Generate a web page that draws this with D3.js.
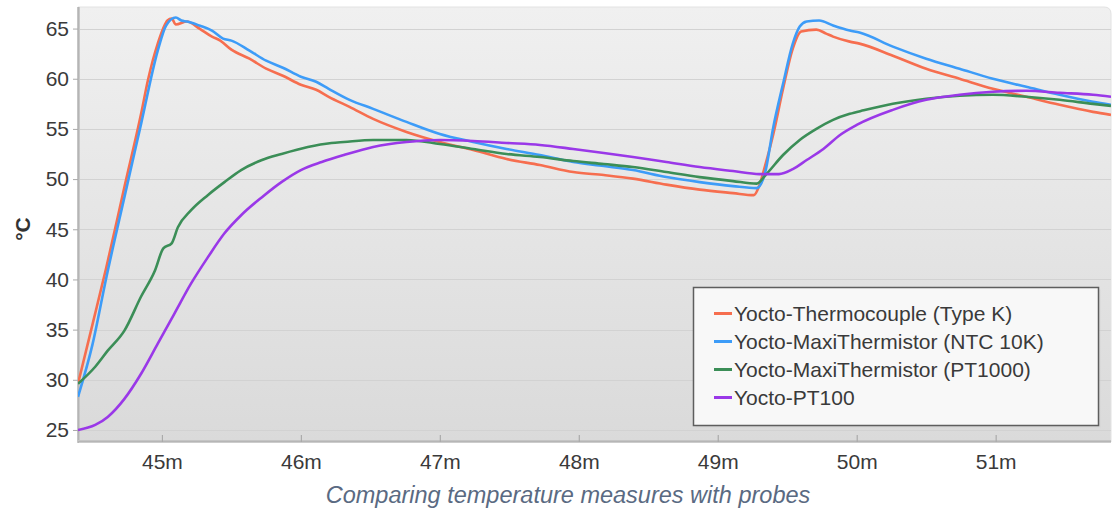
<!DOCTYPE html>
<html>
<head>
<meta charset="utf-8">
<script src="https://cdn.jsdelivr.net/npm/d3@7"></script>
<style>
  html, body { margin: 0; padding: 0; background: #ffffff; }
  svg { display: block; font-family: "Liberation Sans", Arial, sans-serif; }
</style>
</head>
<body>
<svg id="chart" width="1114" height="512"></svg>
<script>
// ---- data (time in minutes, temperature in °C) ----
const xTicks = [45, 46, 47, 48, 49, 50, 51];
const yTicks = [25, 30, 35, 40, 45, 50, 55, 60, 65];
const seriesNames = [
  "Yocto-Thermocouple (Type K)",
  "Yocto-MaxiThermistor (NTC 10K)",
  "Yocto-MaxiThermistor (PT1000)",
  "Yocto-PT100"
];
const seriesColors = ["#f66e4f", "#3d9cf8", "#3b8e57", "#9a38e8"];

const thermocouple = [
  [44.396, 29.6], [44.50, 35.5], [44.60, 41.2], [44.73, 49.2], [44.85, 56.5],
  [44.90, 59.9], [44.97, 63.5], [45.04, 65.8], [45.07, 66.0], [45.10, 65.4],
  [45.18, 65.7], [45.27, 65.0], [45.36, 64.2], [45.42, 63.8], [45.50, 62.9],
  [45.63, 62.0], [45.75, 61.0], [45.87, 60.3], [46.00, 59.4], [46.11, 58.9],
  [46.20, 58.2], [46.35, 57.2], [46.52, 56.0], [46.76, 54.7], [47.00, 53.7],
  [47.24, 52.9], [47.48, 52.0], [47.72, 51.4], [47.96, 50.7], [48.18, 50.4],
  [48.39, 50.05], [48.63, 49.45], [48.87, 48.95], [49.11, 48.6], [49.26, 48.4],
  [49.30, 49.4], [49.34, 51.3], [49.40, 54.5], [49.47, 59.0], [49.54, 63.0],
  [49.60, 64.7], [49.71, 64.9], [49.78, 64.5], [49.83, 64.2], [49.95, 63.7],
  [50.02, 63.5], [50.26, 62.3], [50.50, 61.0], [50.74, 60.0], [50.98, 59.0],
  [51.22, 58.2], [51.46, 57.4], [51.70, 56.7], [51.83, 56.4]
];
const ntc10k = [
  [44.396, 28.3], [44.50, 33.5], [44.60, 40.2], [44.73, 48.2], [44.85, 55.5],
  [44.97, 62.8], [45.03, 65.3], [45.10, 66.1], [45.14, 65.8], [45.18, 65.7],
  [45.27, 65.3], [45.36, 64.8], [45.44, 64.0], [45.50, 63.8], [45.63, 62.8],
  [45.75, 61.8], [45.87, 61.1], [46.00, 60.2], [46.11, 59.7], [46.20, 59.0],
  [46.35, 57.9], [46.52, 57.0], [46.76, 55.7], [47.00, 54.5], [47.24, 53.7],
  [47.48, 53.0], [47.72, 52.4], [47.96, 51.7], [48.18, 51.3], [48.39, 50.9],
  [48.63, 50.2], [48.87, 49.7], [49.11, 49.3], [49.28, 49.1], [49.34, 50.6],
  [49.40, 55.2], [49.47, 59.5], [49.54, 63.5], [49.59, 65.2], [49.64, 65.7],
  [49.73, 65.8], [49.83, 65.3], [49.95, 64.8], [50.02, 64.6], [50.26, 63.2],
  [50.50, 62.0], [50.74, 61.0], [50.98, 60.0], [51.22, 59.2], [51.46, 58.4],
  [51.70, 57.7], [51.83, 57.4]
];
const pt1000 = [
  [44.396, 29.6], [44.52, 31.3], [44.61, 32.9], [44.73, 34.9], [44.85, 38.3],
  [44.95, 40.9], [45.01, 43.1], [45.07, 43.6], [45.115, 45.2], [45.21, 46.9],
  [45.33, 48.4], [45.45, 49.7], [45.57, 50.9], [45.72, 51.9], [45.86, 52.5],
  [46.05, 53.2], [46.22, 53.6], [46.31, 53.7], [46.52, 53.9], [46.76, 53.9],
  [47.00, 53.5], [47.24, 53.0], [47.48, 52.5], [47.72, 52.2], [47.96, 51.8],
  [48.18, 51.5], [48.39, 51.2], [48.63, 50.7], [48.87, 50.2], [49.11, 49.8],
  [49.28, 49.55], [49.35, 50.5], [49.47, 52.4], [49.59, 53.9], [49.71, 55.0],
  [49.83, 55.9], [49.95, 56.5], [50.05, 56.85], [50.26, 57.5], [50.50, 58.0],
  [50.74, 58.3], [50.98, 58.4], [51.22, 58.2], [51.46, 57.9], [51.70, 57.5],
  [51.83, 57.3]
];
const pt100 = [
  [44.396, 25.0], [44.52, 25.5], [44.61, 26.3], [44.73, 28.1], [44.85, 30.6],
  [44.97, 33.6], [45.09, 36.6], [45.21, 39.6], [45.33, 42.2], [45.45, 44.6],
  [45.57, 46.4], [45.72, 48.2], [45.86, 49.7], [46.00, 50.9], [46.15, 51.7],
  [46.31, 52.4], [46.52, 53.2], [46.76, 53.7], [47.00, 53.9], [47.24, 53.8],
  [47.48, 53.6], [47.72, 53.4], [47.96, 53.0], [48.18, 52.6], [48.39, 52.2],
  [48.63, 51.7], [48.87, 51.2], [49.11, 50.8], [49.30, 50.5], [49.44, 50.5],
  [49.54, 51.0], [49.64, 51.9], [49.76, 53.0], [49.88, 54.4], [50.00, 55.4],
  [50.26, 56.9], [50.50, 57.9], [50.74, 58.4], [50.98, 58.7], [51.22, 58.8],
  [51.46, 58.6], [51.70, 58.4], [51.83, 58.2]
];
const allSeries = [thermocouple, ntc10k, pt1000, pt100];
const xDomain = [44.396, 51.83];
const yDomain = [23.8, 67.15];
const caption = "Comparing temperature measures with probes";
const yLabel = "°C";

// ---- layout ----
const svg = d3.select("#chart");
const W = 1114, H = 512;
const m = { left: 78, top: 7, right: 3, bottom: 70 };
const pw = W - m.left - m.right, ph = H - m.top - m.bottom;

const x = d3.scaleLinear().domain(xDomain).range([m.left, m.left + pw]);
const y = d3.scaleLinear().domain(yDomain).range([m.top + ph, m.top]);

const defs = svg.append("defs");
const grad = defs.append("linearGradient").attr("id", "bg").attr("x1", 0).attr("y1", 0).attr("x2", 0).attr("y2", 1);
grad.append("stop").attr("offset", "0%").attr("stop-color", "#f0f0f0");
grad.append("stop").attr("offset", "100%").attr("stop-color", "#dadada");
const clip = defs.append("clipPath").attr("id", "clip");
clip.append("rect").attr("x", m.left).attr("y", m.top).attr("width", pw).attr("height", ph);

// plot background with rounded top-right
const r = 7;
const x0 = m.left, y0 = m.top, x1 = m.left + pw, y1 = m.top + ph;
svg.append("path")
  .attr("d", `M${x0},${y0} H${x1 - r} Q${x1},${y0} ${x1},${y0 + r} V${y1} H${x0} Z`)
  .attr("fill", "url(#bg)")
  .attr("stroke", "#e2e2e2")
  .attr("stroke-width", 1);

// grid
svg.append("g").selectAll("line").data(yTicks).join("line")
  .attr("x1", x0).attr("x2", x1)
  .attr("y1", d => Math.round(y(d)) + 0.5).attr("y2", d => Math.round(y(d)) + 0.5)
  .attr("stroke", "#d2d2d2").attr("stroke-width", 1.2);

// axis lines (left & bottom) with soft shadow
svg.append("line").attr("x1", x0 + 1).attr("x2", x0 + 1).attr("y1", y0).attr("y2", y1)
  .attr("stroke", "#c8c8c8").attr("stroke-width", 2);
svg.append("line").attr("x1", x0).attr("x2", x0).attr("y1", y0).attr("y2", y1 + 1)
  .attr("stroke", "#a8a8a8").attr("stroke-width", 1.2);
svg.append("line").attr("x1", x0).attr("x2", x1).attr("y1", y1 - 1).attr("y2", y1 - 1)
  .attr("stroke", "#c4c4c4").attr("stroke-width", 2);
svg.append("line").attr("x1", x0).attr("x2", x1).attr("y1", y1).attr("y2", y1)
  .attr("stroke", "#a8a8a8").attr("stroke-width", 1.2);

// y axis
const yAxis = d3.axisLeft(y).tickValues(yTicks).tickSize(5).tickPadding(4);
const gy = svg.append("g").attr("transform", `translate(${x0},0)`).call(yAxis);
gy.select(".domain").remove();
gy.selectAll(".tick line").attr("stroke", "#aaa");
gy.selectAll(".tick text").attr("fill", "#3a3a3a").style("font-size", "21px")
  .attr("font-family", "'Liberation Sans', Arial, sans-serif");

// x axis (ticks pointing up into plot)
const xAxis = d3.axisBottom(x).tickValues(xTicks).tickFormat(d => d + "m").tickSize(0).tickPadding(12);
const gx = svg.append("g").attr("transform", `translate(0,${y1})`).call(xAxis);
gx.select(".domain").remove();
gx.selectAll(".tick").append("line").attr("y1", -7).attr("y2", 0).attr("stroke", "#aaa").attr("stroke-width", 1.2);
gx.selectAll(".tick text").attr("fill", "#3a3a3a").style("font-size", "21px")
  .attr("font-family", "'Liberation Sans', Arial, sans-serif");

// lines
const line = d3.line().x(d => x(d[0])).y(d => y(d[1])).curve(d3.curveMonotoneX);
svg.append("g").attr("clip-path", "url(#clip)").selectAll("path").data(allSeries).join("path")
  .attr("d", line)
  .attr("fill", "none")
  .attr("stroke", (d, i) => seriesColors[i])
  .attr("stroke-width", 2.6)
  .attr("stroke-linejoin", "round");

// legend
const lg = svg.append("g");
lg.append("rect").attr("x", 694).attr("y", 288).attr("width", 405).attr("height", 138)
  .attr("fill", "#cfcfcf").attr("opacity", 0.5).attr("transform", "translate(1.5,1.5)");
lg.append("rect").attr("x", 693.5).attr("y", 287.5).attr("width", 405).attr("height", 138)
  .attr("fill", "#f8f8f8").attr("stroke", "#5e5e5e").attr("stroke-width", 1.5);
const items = lg.selectAll("g.item").data(seriesNames).join("g").attr("class", "item")
  .attr("transform", (d, i) => `translate(714,${313.5 + i * 28})`);
items.append("line").attr("x1", 0).attr("x2", 18).attr("y1", 0).attr("y2", 0)
  .attr("stroke", (d, i) => seriesColors[i]).attr("stroke-width", 3);
items.append("text").attr("x", 20).attr("y", 0).attr("dy", "0.36em")
  .attr("fill", "#3a3a3a").style("font-size", "21px").text(d => d);

// y label
svg.append("text").attr("transform", "translate(30,229) rotate(-90)")
  .attr("text-anchor", "middle").attr("fill", "#333").style("font-size", "21px")
  .style("font-weight", "bold").text(yLabel);

// caption
svg.append("text").attr("x", 568).attr("y", 503).attr("text-anchor", "middle")
  .attr("fill", "#5a6a82").style("font-size", "23.5px").style("font-style", "italic")
  .text(caption);
</script>
</body>
</html>
